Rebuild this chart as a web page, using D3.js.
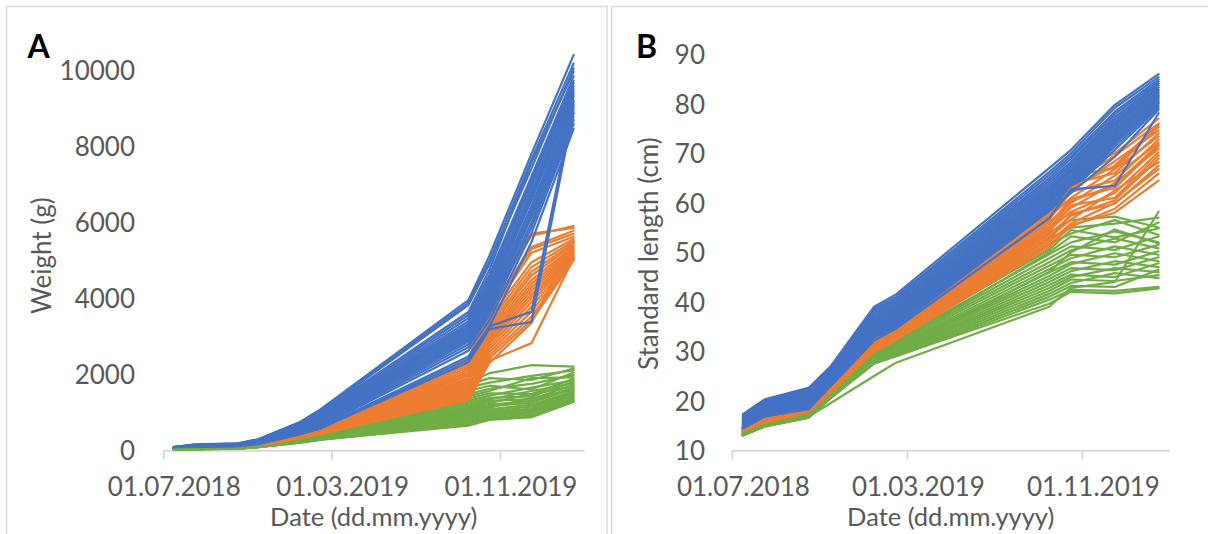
<!DOCTYPE html>
<html>
<head>
<meta charset="utf-8">
<script src="https://cdn.jsdelivr.net/npm/d3@7"></script>
<style>
  body { margin: 0; background: #fff; }
  svg { display: block; }
  text { font-family: Lato, "Open Sans", "Liberation Sans", sans-serif; }
</style>
</head>
<body>
<svg id="chart" width="1208" height="534"></svg>
<script>
// Sampling months, counted from July 2018 (0 = Jul 2018, 19 = Feb 2020)
const sampleMonths = [0, 1, 3, 4, 6, 7, 14, 15, 17, 19];

// Date axis: one tick every 8 months
const dateTicks = [0, 8, 16];
const dateTickLabels = ["01.07.2018", "01.03.2019", "01.11.2019"];
const weightTicks = [0, 2000, 4000, 6000, 8000, 10000];
const lengthTicks = [10, 20, 30, 40, 50, 60, 70, 80, 90];

const groupColors = ["#4472C4", "#ED7D31", "#70AD47"];

// Body weight (g) of each fish at the sampling months
const blueWeight = [
  [85, 155, 180, 290, 745, 1090, 3950, 5120, 7800, 10400],
  [80, 150, 176, 282, 735, 1070, 3880, 4980, 7650, 10180],
  [88, 146, 172, 276, 720, 1040, 3820, 4900, 7420, 10050],
  [78, 140, 168, 268, 700, 1010, 3640, 4750, 7580, 9960],
  [82, 138, 166, 262, 690, 985, 3560, 4620, 7210, 9840],
  [74, 134, 162, 256, 672, 955, 3480, 4560, 7120, 9720],
  [76, 130, 160, 250, 660, 930, 3400, 4470, 6980, 9660],
  [70, 128, 156, 244, 645, 905, 3330, 4380, 7050, 9580],
  [72, 124, 152, 238, 628, 885, 3270, 4310, 6860, 9510],
  [66, 122, 150, 232, 612, 862, 3220, 4240, 6740, 9430],
  [68, 118, 146, 226, 600, 845, 3160, 4180, 6690, 9360],
  [63, 115, 144, 220, 588, 826, 3110, 4090, 6580, 9310],
  [65, 112, 140, 214, 572, 805, 3060, 4010, 6620, 9220],
  [60, 110, 137, 208, 558, 786, 3010, 3960, 6430, 9170],
  [58, 106, 134, 203, 544, 764, 2960, 3900, 6320, 9060],
  [61, 103, 131, 198, 530, 745, 2910, 3820, 6210, 8990],
  [55, 99, 128, 192, 514, 718, 2860, 3730, 6130, 8870],
  [52, 96, 125, 186, 498, 696, 2790, 3660, 5990, 8780],
  [54, 92, 120, 180, 484, 668, 2710, 3570, 5870, 8690],
  [49, 89, 116, 173, 462, 638, 2620, 3420, 5720, 8590],
  [46, 86, 111, 166, 442, 606, 2470, 3260, 5480, 8460],
  [44, 82, 106, 160, 428, 578, 2400, 3260, 3650, 9110],
  [41, 84, 103, 158, 422, 584, 2320, 3190, 3380, 8920]
];
const orangeWeight = [
  [48, 88, 108, 178, 428, 596, 2370, 3980, 5700, 5850],
  [45, 85, 105, 172, 420, 585, 2300, 3850, 5650, 5900],
  [46, 82, 104, 168, 414, 574, 2240, 3720, 5350, 5780],
  [42, 80, 100, 165, 408, 566, 2180, 3640, 5300, 5700],
  [40, 78, 98, 160, 402, 555, 2120, 3560, 5200, 5620],
  [44, 75, 96, 156, 396, 545, 2060, 3480, 4950, 5560],
  [38, 72, 94, 152, 390, 536, 2010, 3390, 4820, 5500],
  [36, 70, 92, 148, 385, 528, 1960, 3300, 4700, 5450],
  [39, 68, 90, 145, 380, 518, 1900, 3220, 4600, 5410],
  [34, 66, 88, 142, 375, 510, 1850, 3150, 4480, 5360],
  [32, 64, 86, 138, 370, 502, 1800, 3080, 4380, 5320],
  [35, 62, 84, 135, 366, 494, 1760, 3010, 4290, 5270],
  [30, 60, 82, 132, 361, 486, 1710, 2950, 4200, 5230],
  [28, 58, 80, 130, 356, 478, 1660, 2880, 4100, 5190],
  [31, 56, 78, 127, 352, 470, 1620, 2820, 4010, 5150],
  [27, 54, 76, 124, 348, 463, 1570, 2740, 3900, 5120],
  [25, 52, 74, 121, 344, 456, 1520, 2660, 3780, 5080],
  [26, 50, 72, 118, 340, 450, 1470, 2580, 3650, 5050],
  [24, 48, 70, 116, 336, 444, 1420, 2500, 3520, 5020],
  [22, 45, 66, 113, 333, 438, 1370, 2420, 3420, 5000],
  [21, 42, 63, 111, 330, 432, 1340, 2360, 2820, 5060],
  [23, 44, 65, 112, 338, 440, 1320, 2300, 3350, 5500]
];
const greenWeight = [
  [38, 58, 78, 128, 338, 436, 1800, 2030, 2240, 2200],
  [36, 56, 76, 125, 330, 428, 1720, 1900, 1850, 2150],
  [35, 55, 74, 122, 322, 418, 1650, 1780, 1960, 2100],
  [34, 53, 72, 120, 315, 410, 1560, 1700, 1600, 2050],
  [32, 51, 70, 118, 308, 402, 1480, 1620, 1750, 1980],
  [31, 50, 68, 115, 300, 392, 1420, 1560, 1900, 1920],
  [30, 48, 66, 112, 294, 384, 1360, 1500, 1480, 1880],
  [29, 46, 64, 110, 288, 376, 1300, 1440, 1650, 1840],
  [28, 45, 62, 108, 282, 368, 1250, 1380, 1420, 1800],
  [27, 44, 60, 106, 276, 360, 1200, 1340, 1560, 1760],
  [26, 42, 58, 104, 270, 352, 1150, 1300, 1350, 1720],
  [25, 41, 57, 102, 264, 346, 1110, 1250, 1480, 1690],
  [24, 40, 56, 100, 258, 340, 1070, 1200, 1300, 1650],
  [23, 38, 54, 98, 252, 334, 1030, 1160, 1250, 1620],
  [22, 37, 52, 96, 246, 328, 990, 1120, 1380, 1580],
  [21, 36, 50, 94, 240, 322, 950, 1080, 1200, 1550],
  [20, 34, 49, 92, 234, 316, 910, 1040, 1150, 1520],
  [19, 33, 47, 90, 228, 310, 870, 1000, 1100, 1490],
  [18, 32, 46, 88, 222, 304, 830, 960, 1060, 1450],
  [18, 30, 45, 86, 216, 298, 790, 920, 1020, 1420],
  [17, 29, 44, 84, 210, 292, 750, 880, 980, 1380],
  [16, 28, 42, 82, 205, 286, 710, 850, 930, 1340],
  [15, 26, 41, 80, 200, 282, 680, 820, 880, 1300],
  [16, 27, 40, 81, 202, 280, 650, 800, 870, 1270]
];

// Standard length (cm) of each fish at the sampling months
const blueLength = [
  [17.3, 20.3, 22.6, 26.9, 39.0, 41.5, 67.0, 70.7, 79.8, 86.0],
  [17.0, 20.0, 22.3, 26.6, 38.6, 41.0, 66.2, 70.0, 79.2, 85.4],
  [16.8, 19.8, 22.0, 26.3, 38.2, 40.6, 65.6, 69.4, 78.4, 84.9],
  [16.6, 19.5, 21.8, 26.1, 37.8, 40.2, 65.0, 68.9, 77.9, 84.5],
  [16.4, 19.3, 21.6, 25.9, 37.4, 39.8, 64.5, 68.3, 77.3, 84.1],
  [16.2, 19.1, 21.3, 25.6, 37.0, 39.4, 64.0, 67.8, 76.8, 83.7],
  [16.1, 18.9, 21.1, 25.4, 36.7, 39.0, 63.5, 67.3, 76.3, 83.3],
  [15.9, 18.7, 20.9, 25.2, 36.4, 38.7, 63.0, 66.8, 75.9, 82.9],
  [15.7, 18.5, 20.7, 25.0, 36.1, 38.4, 62.6, 66.4, 75.5, 82.6],
  [15.6, 18.3, 20.5, 24.8, 35.8, 38.1, 62.2, 66.0, 75.0, 82.2],
  [15.4, 18.2, 20.3, 24.6, 35.5, 37.8, 61.8, 65.5, 74.6, 81.9],
  [15.3, 18.0, 20.1, 24.5, 35.2, 37.5, 61.4, 65.1, 74.2, 81.6],
  [15.2, 17.8, 19.9, 24.3, 34.9, 37.2, 61.0, 64.7, 73.8, 81.3],
  [15.0, 17.7, 19.7, 24.1, 34.6, 36.9, 60.6, 64.3, 73.4, 81.0],
  [14.9, 17.5, 19.5, 24.0, 34.3, 36.6, 60.2, 63.9, 72.9, 80.6],
  [14.8, 17.4, 19.3, 23.8, 34.0, 36.3, 59.8, 63.5, 72.5, 80.3],
  [14.7, 17.2, 19.1, 23.7, 33.7, 36.0, 59.4, 63.1, 72.0, 80.0],
  [14.6, 17.1, 18.9, 23.5, 33.4, 35.7, 59.0, 62.7, 71.4, 79.6],
  [14.5, 17.0, 18.7, 23.4, 33.1, 35.4, 58.6, 62.4, 70.7, 79.2],
  [14.4, 16.8, 18.4, 23.2, 32.8, 35.0, 58.3, 62.0, 69.3, 78.8],
  [14.5, 16.9, 18.3, 22.9, 32.2, 34.6, 56.9, 62.7, 63.4, 78.1]
];
const orangeLength = [
  [14.6, 16.8, 18.4, 23.2, 33.0, 35.2, 59.7, 66.6, 70.0, 77.0],
  [14.5, 16.7, 18.3, 23.0, 32.7, 35.0, 59.2, 64.0, 69.5, 76.0],
  [14.5, 16.6, 18.3, 22.9, 32.4, 34.8, 58.6, 65.5, 67.0, 75.3],
  [14.4, 16.5, 18.2, 22.8, 32.2, 34.6, 58.1, 62.5, 68.4, 74.6],
  [14.4, 16.4, 18.1, 22.7, 32.0, 34.4, 57.6, 63.8, 66.0, 74.0],
  [14.3, 16.3, 18.1, 22.6, 31.8, 34.2, 57.1, 61.0, 66.8, 73.4],
  [14.3, 16.2, 18.0, 22.5, 31.6, 34.0, 56.6, 62.2, 64.5, 72.8],
  [14.2, 16.2, 18.0, 22.4, 31.4, 33.8, 56.1, 60.0, 65.5, 72.1],
  [14.2, 16.1, 17.9, 22.3, 31.2, 33.7, 55.6, 60.8, 63.0, 71.5],
  [14.1, 16.0, 17.9, 22.2, 31.0, 33.5, 55.1, 59.0, 64.0, 70.9],
  [14.1, 15.9, 17.8, 22.1, 30.8, 33.3, 54.6, 58.2, 62.0, 70.2],
  [14.0, 15.9, 17.8, 22.0, 30.6, 33.2, 54.1, 59.5, 61.0, 69.6],
  [14.0, 15.8, 17.7, 21.9, 30.4, 33.0, 53.6, 57.4, 60.5, 68.9],
  [13.9, 15.7, 17.7, 21.8, 30.2, 32.9, 53.1, 56.6, 62.5, 68.2],
  [13.9, 15.7, 17.6, 21.7, 30.0, 32.7, 52.6, 57.8, 59.8, 67.5],
  [13.9, 15.6, 17.6, 21.6, 29.8, 32.6, 52.1, 55.8, 60.0, 66.8],
  [13.8, 15.6, 17.5, 21.5, 29.6, 32.4, 51.5, 55.2, 58.8, 65.9],
  [13.8, 15.5, 17.5, 21.5, 29.4, 32.3, 51.0, 55.5, 58.0, 64.5],
  [14.2, 16.3, 18.2, 22.7, 31.9, 34.3, 57.0, 63.0, 67.5, 75.8],
  [14.0, 16.0, 17.8, 22.2, 30.9, 33.4, 54.8, 60.3, 63.6, 71.8]
];
const greenLength = [
  [13.8, 15.5, 17.5, 21.5, 31.0, 33.5, 54.0, 56.5, 57.2, 55.0],
  [13.7, 15.5, 17.4, 21.4, 30.7, 33.2, 52.8, 55.0, 55.8, 57.0],
  [13.7, 15.4, 17.4, 21.3, 30.5, 32.9, 51.6, 53.8, 56.5, 53.5],
  [13.6, 15.4, 17.3, 21.3, 30.3, 32.6, 50.5, 54.5, 53.0, 54.8],
  [13.6, 15.3, 17.3, 21.2, 30.1, 32.3, 49.6, 52.0, 54.2, 52.0],
  [13.5, 15.3, 17.2, 21.2, 29.9, 32.0, 48.8, 51.2, 50.5, 53.2],
  [13.5, 15.2, 17.2, 21.1, 29.7, 31.8, 48.0, 50.4, 52.8, 50.8],
  [13.4, 15.2, 17.1, 21.1, 29.5, 31.5, 47.3, 49.5, 49.0, 51.5],
  [13.4, 15.1, 17.1, 21.0, 29.3, 31.2, 46.6, 48.8, 51.2, 49.5],
  [13.3, 15.1, 17.0, 21.0, 29.1, 31.0, 45.9, 48.0, 47.5, 50.2],
  [13.3, 15.0, 17.0, 20.9, 28.9, 30.7, 45.2, 47.6, 49.8, 48.2],
  [13.3, 15.0, 16.9, 20.9, 28.7, 30.5, 44.6, 46.8, 46.4, 49.0],
  [13.2, 15.0, 16.9, 20.8, 28.5, 30.2, 44.0, 46.2, 48.2, 47.0],
  [13.2, 14.9, 16.8, 20.8, 28.4, 30.0, 43.4, 45.5, 45.0, 47.8],
  [13.2, 14.9, 16.8, 20.7, 28.2, 29.8, 42.8, 45.0, 46.8, 46.0],
  [13.1, 14.9, 16.7, 20.7, 28.1, 29.6, 42.2, 44.5, 44.2, 45.4],
  [13.1, 14.8, 16.7, 20.6, 28.0, 29.4, 41.6, 43.8, 45.8, 44.8],
  [13.1, 14.8, 16.6, 20.6, 27.8, 29.2, 41.0, 43.2, 43.0, 46.5],
  [13.0, 14.8, 16.6, 20.5, 27.6, 29.0, 40.4, 42.4, 42.2, 43.0],
  [13.0, 14.8, 16.6, 20.5, 27.5, 29.0, 39.6, 42.0, 41.7, 42.7],
  [13.0, 14.9, 16.8, 19.5, 25.0, 27.7, 39.0, 42.8, 44.0, 58.2],
  [13.4, 15.2, 17.1, 21.0, 29.4, 31.6, 50.0, 53.2, 52.0, 56.0],
  [13.2, 15.0, 16.9, 20.8, 28.6, 30.4, 46.0, 50.0, 54.6, 51.8]
];

const svg = d3.select("#chart");
const textColor = "#595959";
const gridColor = "#d9d9d9";

// Panel frames
svg.append("rect").attr("x", 6.5).attr("y", 6.5).attr("width", 600.5).attr("height", 560)
  .attr("fill", "none").attr("stroke", gridColor).attr("stroke-width", 1.5);
svg.append("rect").attr("x", 611.5).attr("y", 6.5).attr("width", 620).attr("height", 560)
  .attr("fill", "none").attr("stroke", gridColor).attr("stroke-width", 1.5);

// Interleave the groups so their traces overlap the way they were plotted
function interleave(groups) {
  const out = [];
  const n = d3.max(groups, g => g.length);
  for (let i = 0; i < n; i++) {
    groups.forEach((g, k) => { if (i < g.length) out.push({ values: g[i], color: groupColors[k] }); });
  }
  return out;
}

function drawPanel(cfg) {
  const x = d3.scaleLinear().domain([0, 20]).range(cfg.xRange);
  const y = d3.scaleLinear().domain(cfg.yDomain).range(cfg.yRange);
  const halfMonth = (x(1) - x(0)) / 2;

  // x axis (date, one category per month)
  const xAxis = svg.append("g")
    .attr("transform", `translate(0,${cfg.yRange[0]})`)
    .call(d3.axisBottom(x).tickValues(dateTicks)
      .tickFormat((d, i) => dateTickLabels[i])
      .tickSizeInner(9).tickSizeOuter(0).tickPadding(18.5));
  xAxis.select(".domain").attr("stroke", gridColor).attr("stroke-width", 2);
  xAxis.selectAll(".tick line").attr("stroke", gridColor).attr("stroke-width", 2);
  xAxis.selectAll(".tick text")
    .attr("dx", halfMonth)
    .attr("fill", textColor).attr("font-size", 26)
    .attr("font-family", "Lato, 'Open Sans', sans-serif");

  // y axis (labels only)
  const yAxis = svg.append("g")
    .attr("transform", `translate(${cfg.xRange[0]},0)`)
    .call(d3.axisLeft(y).tickValues(cfg.yTicks).tickFormat(d3.format("d"))
      .tickSize(0).tickPadding(cfg.yPad));
  yAxis.select(".domain").remove();
  yAxis.selectAll(".tick text")
    .attr("dy", "0.36em")
    .attr("fill", textColor).attr("font-size", 26)
    .attr("font-family", "Lato, 'Open Sans', sans-serif");

  // individual growth trajectories
  const line = d3.line()
    .x((d, i) => x(sampleMonths[i] + 0.5))
    .y(d => y(d));
  svg.append("g").selectAll("path")
    .data(interleave(cfg.groups))
    .join("path")
    .attr("d", d => line(d.values))
    .attr("fill", "none")
    .attr("stroke", d => d.color)
    .attr("stroke-width", 2.2)
    .attr("stroke-linejoin", "round")
    .attr("stroke-linecap", "round");

  // axis titles
  svg.append("text")
    .attr("x", (cfg.xRange[0] + cfg.xRange[1]) / 2).attr("y", 526)
    .attr("text-anchor", "middle").attr("fill", textColor).attr("font-size", 25.5)
    .text("Date (dd.mm.yyyy)");
  svg.append("text")
    .attr("transform", `translate(${cfg.yTitleX},${cfg.yTitleY}) rotate(-90)`)
    .attr("text-anchor", "middle").attr("fill", textColor).attr("font-size", 26)
    .text(cfg.yTitle);

  // panel letter
  svg.append("text")
    .attr("x", cfg.letterX).attr("y", 58)
    .attr("fill", "#000").attr("font-size", 32).attr("font-weight", 700)
    .text(cfg.letter);
}

drawPanel({
  letter: "A", letterX: 27.5,
  xRange: [163.3, 584.1],
  yDomain: [0, 10000], yRange: [450.3, 70.3], yTicks: weightTicks, yPad: 28.3,
  yTitle: "Weight (g)", yTitleX: 51, yTitleY: 255.6,
  groups: [blueWeight, orangeWeight, greenWeight]
});

drawPanel({
  letter: "B", letterX: 636,
  xRange: [731.9, 1169.5],
  yDomain: [10, 90], yRange: [450.3, 54.3], yTicks: lengthTicks, yPad: 26.9,
  yTitle: "Standard length (cm)", yTitleX: 657.5, yTitleY: 253.7,
  groups: [blueLength, orangeLength, greenLength]
});
</script>
</body>
</html>
